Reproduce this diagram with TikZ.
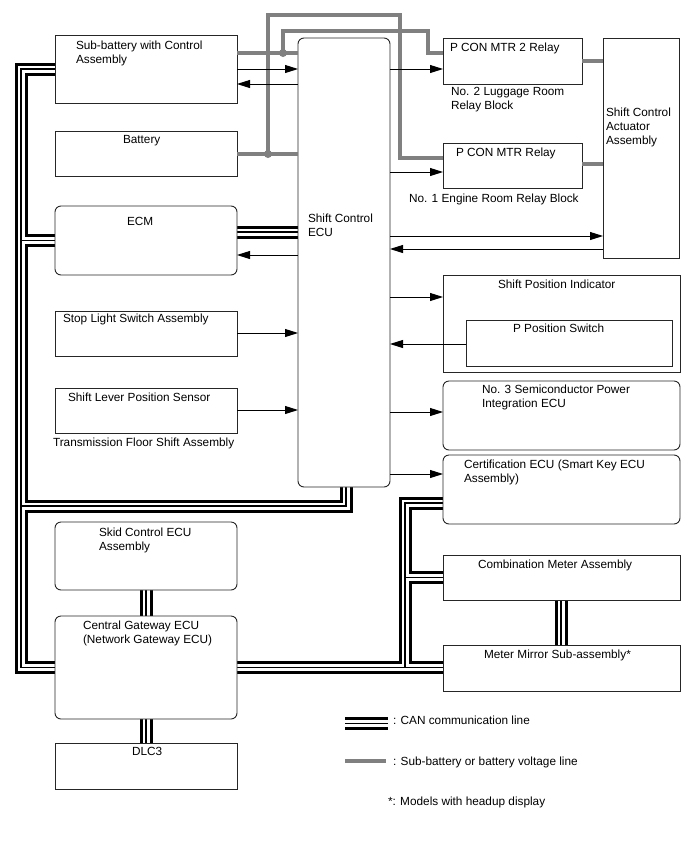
\documentclass[tikz,border=0pt]{standalone}
\usepackage{fontspec}
\setmainfont{Liberation Sans}
\usetikzlibrary{arrows.meta}
\pgfdeclarelayer{bg}
\pgfsetlayers{bg,main}
\tikzset{
 box/.style={draw=black!85, line width=0.9pt, fill=white, anchor=north west, inner sep=0pt, outer sep=0pt},
 rbox/.style={box, rounded corners=6pt},
 lbl/.style={anchor=north west, inner sep=0pt, outer sep=0pt, align=left, font=\fontsize{11.8}{14}\selectfont},
 arr/.style={draw=black, line width=0.9pt, -{Triangle[length=13pt,width=8pt]}},
 pwr/.style={draw=black!50, line width=3.2pt, line join=miter},
 pdot/.style={circle, fill=black!50, inner sep=0pt, minimum size=8pt},
 canA/.style={draw=black, line width=13pt, line join=miter},
 canB/.style={draw=white, line width=7pt, line join=miter},
 canC/.style={draw=black, line width=1.3pt, line join=miter},
}
\newcommand\canpaths{
 (sub.west) -- (cTL) -- (cBL) -- (gw.west)
 (ecm.west) -- (ecm.west -| cTL)
 (cJ1) -- (cJ2) -- (cJ2 |- ecu.south)
 (ecu.west |- 0,232) -- (ecm.east |- 0,232)
 (gw.east) -- (gw.east -| mirror.west)
 (cR2) -- (cR1) -- (cR1 -| cert.west)
 (comb.west) -- (comb.west -| cR1)
 (skid.south -| 146,0) -- (gw.north -| 146,0)
 (gw.south -| 146,0) -- (dlc.north -| 146,0)
 (comb.south -| 561,0) -- (mirror.north -| 561,0)
 (lgA) -- (lgB)
}
\begin{document}
\begin{tikzpicture}[x=1pt,y=-1pt]
\useasboundingbox (0,0) rectangle (688,852);
% boxes
\node[box, minimum width=182pt, minimum height=68pt] (sub) at (55,35) {};
\node[box, minimum width=182pt, minimum height=45pt] (bat) at (55,131) {};
\node[rbox, minimum width=182pt, minimum height=69pt] (ecm) at (55,206) {};
\node[box, minimum width=182pt, minimum height=45pt] (stop) at (55,311) {};
\node[box, minimum width=182pt, minimum height=45pt] (lever) at (55,388) {};
\node[rbox, minimum width=92pt, minimum height=449pt] (ecu) at (298,38) {};
\node[box, minimum width=139pt, minimum height=46pt] (relay2) at (443,38) {};
\node[box, minimum width=139pt, minimum height=45pt] (relay1) at (443,143) {};
\node[box, minimum width=76pt, minimum height=220pt] (act) at (603,38) {};
\node[box, minimum width=237pt, minimum height=97pt] (spi) at (443,275) {};
\node[box, minimum width=206pt, minimum height=46pt] (pps) at (466,320) {};
\node[rbox, minimum width=237pt, minimum height=69pt] (semi) at (443,381) {};
\node[rbox, minimum width=237pt, minimum height=69pt] (cert) at (443,455) {};
\node[box, minimum width=237pt, minimum height=45pt] (comb) at (443,555) {};
\node[box, minimum width=237pt, minimum height=46pt] (mirror) at (443,645) {};
\node[rbox, minimum width=182pt, minimum height=68pt] (skid) at (55,522) {};
\node[rbox, minimum width=182pt, minimum height=103pt] (gw) at (55,616) {};
\node[box, minimum width=182pt, minimum height=46pt] (dlc) at (55,743) {};
% labels
\node[lbl] (tSub) at (76,41) {Sub-battery with Control\\Assembly};
\node[lbl] (tBat) at (123,135) {Battery};
\node[lbl] (tEcm) at (127,217) {ECM};
\node[lbl] (tEcu) at (308,214) {Shift Control\\ECU};
\node[lbl] (tStop) at (63,314) {Stop Light Switch Assembly};
\node[lbl] (tLever) at (68,393) {Shift Lever Position Sensor};
\node[lbl] (tTfs) at (53,438) {Transmission Floor Shift Assembly};
\node[lbl] (tR2) at (450,43) {P CON MTR 2 Relay};
\node[lbl] (tR2b) at (451,87) {No. 2 Luggage Room\\Relay Block};
\node[lbl] (tR1) at (456,148) {P CON MTR Relay};
\node[lbl] (tR1b) at (409,194) {No. 1 Engine Room Relay Block};
\node[lbl] (tAct) at (606,108) {Shift Control\\Actuator\\Assembly};
\node[lbl] (tSpi) at (498,280) {Shift Position Indicator};
\node[lbl] (tPps) at (513,324) {P Position Switch};
\node[lbl] (tSemi) at (482,385) {No. 3 Semiconductor Power\\Integration ECU};
\node[lbl] (tCert) at (464,460) {Certification ECU (Smart Key ECU\\Assembly)};
\node[lbl] (tSkid) at (99,528) {Skid Control ECU\\Assembly};
\node[lbl] (tGw) at (83,621) {Central Gateway ECU\\(Network Gateway ECU)};
\node[lbl] (tDlc) at (132,747) {DLC3};
\node[lbl] (tComb) at (478,560) {Combination Meter Assembly};
\node[lbl] (tMir) at (484,650) {Meter Mirror Sub-assembly*};
\node[lbl] (tCan) at (393,716) {: CAN communication line};
\node[lbl] (tPwr) at (393,757) {: Sub-battery or battery voltage line};
\node[lbl] (tNote) at (388,797) {*: Models with headup display};
% CAN coordinates
\coordinate (cTL) at (21,69);
\coordinate (cBL) at (21,667.5);
\coordinate (cJ1) at (21,506);
\coordinate (cJ2) at (346,506);
\coordinate (cR1) at (405,503);
\coordinate (cR2) at (405,667.5);
\coordinate (lgA) at (345,723.5);
\coordinate (lgB) at (388,723.5);
\coordinate (lpA) at (345,761);
\coordinate (lpB) at (386,761);
\begin{pgfonlayer}{bg}
\fill[white] (0,0) rectangle (688,852);
\draw[canA] \canpaths;
\draw[canB] \canpaths;
\draw[canC] \canpaths;
\end{pgfonlayer}
% power lines
\coordinate (g1) at (283,53);
\coordinate (g2) at (268,154);
\draw[pwr] (sub.east |- g1) -- (ecu.west |- g1);
\draw[pwr] (g1) -- (283,31) -- (428,31) -- (428,53) -- (relay2.west |- 0,53);
\draw[pwr] (bat.east |- g2) -- (ecu.west |- g2);
\draw[pwr] (g2) -- (268,15) -- (400,15) -- (400,158) -- (relay1.west |- 0,158);
\draw[pwr] (relay2.east |- 0,61) -- (act.west |- 0,61);
\draw[pwr] (relay1.east |- 0,164) -- (act.west |- 0,164);
\draw[pwr] (lpA) -- (lpB);
\node[pdot] (d1) at (g1) {};
\node[pdot] (d2) at (g2) {};
% signal arrows
\draw[arr] (sub.east |- 0,69) -- (ecu.west |- 0,69);
\draw[arr] (ecu.west |- 0,84) -- (sub.east |- 0,84);
\draw[arr] (ecu.west |- 0,255) -- (ecm.east |- 0,255);
\draw[arr] (stop.east |- 0,333) -- (ecu.west |- 0,333);
\draw[arr] (lever.east |- 0,410) -- (ecu.west |- 0,410);
\draw[arr] (ecu.east |- 0,69) -- (relay2.west |- 0,69);
\draw[arr] (ecu.east |- 0,172) -- (relay1.west |- 0,172);
\draw[arr] (ecu.east |- 0,236) -- (act.west |- 0,236);
\draw[arr] (act.west |- 0,249) -- (ecu.east |- 0,249);
\draw[arr] (ecu.east |- 0,297) -- (spi.west |- 0,297);
\draw[arr] (pps.west |- 0,344) -- (ecu.east |- 0,344);
\draw[arr] (ecu.east |- 0,412) -- (semi.west |- 0,412);
\draw[arr] (ecu.east |- 0,474) -- (cert.west |- 0,474);
\end{tikzpicture}
\end{document}
